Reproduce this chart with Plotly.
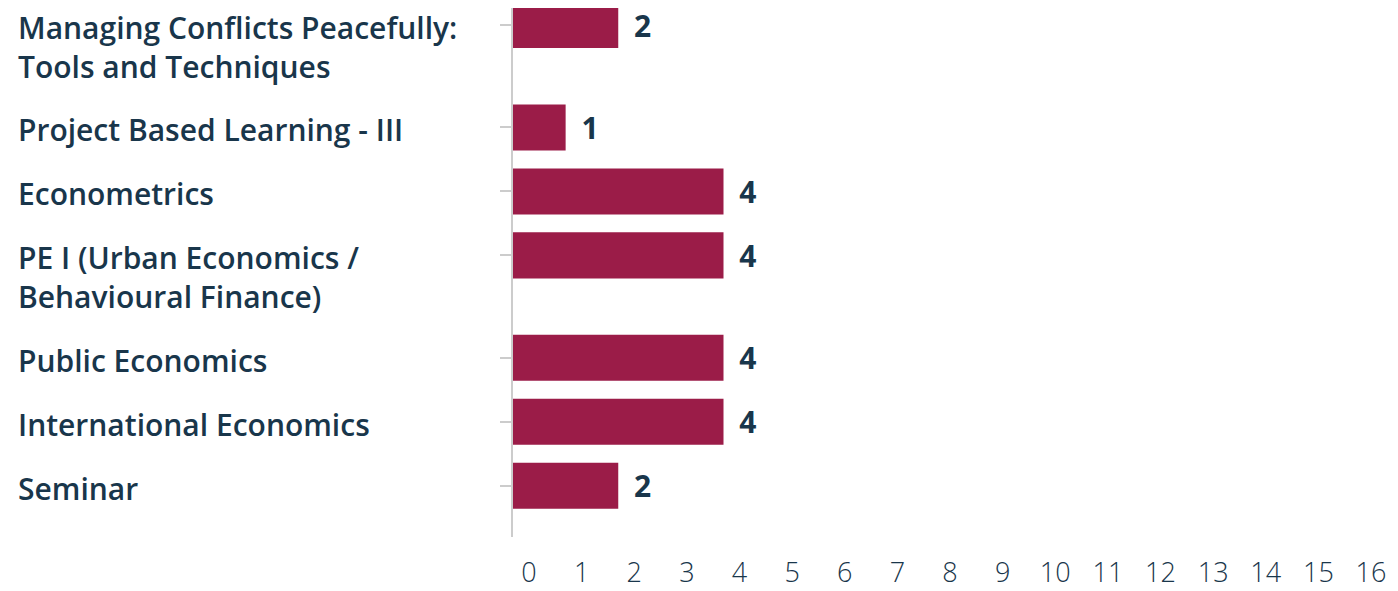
import plotly.graph_objects as go

# course names (with <br> where the label wraps) and their values
courses = [
    "Managing Conflicts Peacefully:<br>Tools and Techniques",
    "Project Based Learning - III",
    "Econometrics",
    "PE I (Urban Economics /<br>Behavioural Finance)",
    "Public Economics",
    "International Economics",
    "Seminar",
]
counts = [2, 1, 4, 4, 4, 4, 2]
x_ticks = list(range(0, 17))

BAR_COLOR = "#9b1c48"
TEXT_COLOR = "#19364b"
AXIS_COLOR = "#cccccc"
FONT = "Open Sans"

# each wrapped line adds extra vertical room to its slot
EXTRA_LINE = 0.6
positions = []
pos = 0.0
for name in courses:
    positions.append(pos)
    pos += 1 + EXTRA_LINE * name.count("<br>")

fig = go.Figure(
    go.Bar(
        x=counts,
        y=positions,
        orientation="h",
        width=0.72,
        marker=dict(color=BAR_COLOR, line_width=0),
        text=["\u2009\u00a0" + str(c) for c in counts],
        textposition="outside",
        textfont=dict(family=FONT, size=30, color=TEXT_COLOR, weight=700),
        cliponaxis=False,
        hoverinfo="skip",
    )
)

for name, p in zip(courses, positions):
    fig.add_annotation(
        x=0,
        xref="paper",
        xshift=-497,
        xanchor="left",
        y=p,
        yref="y",
        yanchor="top",
        yshift=20,
        text=name,
        align="left",
        showarrow=False,
        font=dict(family=FONT, size=30, color=TEXT_COLOR, weight=600),
    )

# page body adds an 8px margin, so the figure is 8px smaller each way
fig.update_layout(
    width=1390,
    height=583,
    margin=dict(l=505, r=43, t=0, b=54),
    plot_bgcolor="white",
    paper_bgcolor="white",
    showlegend=False,
    xaxis=dict(
        range=[0, 16],
        tickvals=x_ticks,
        showgrid=False,
        zeroline=False,
        showline=False,
        ticks="",
        ticklabelshift=16,
        ticklabelstandoff=17,
        tickfont=dict(family=FONT, size=27, color=TEXT_COLOR, weight=300),
    ),
    yaxis=dict(
        range=[8.0, -0.266],
        tickvals=positions,
        ticktext=["" for _ in positions],
        showgrid=False,
        zeroline=False,
        showline=True,
        linecolor=AXIS_COLOR,
        linewidth=2,
        ticks="outside",
        ticklen=11,
        tickwidth=2,
        tickcolor=AXIS_COLOR,
    ),
)

fig.write_html("out.html")
